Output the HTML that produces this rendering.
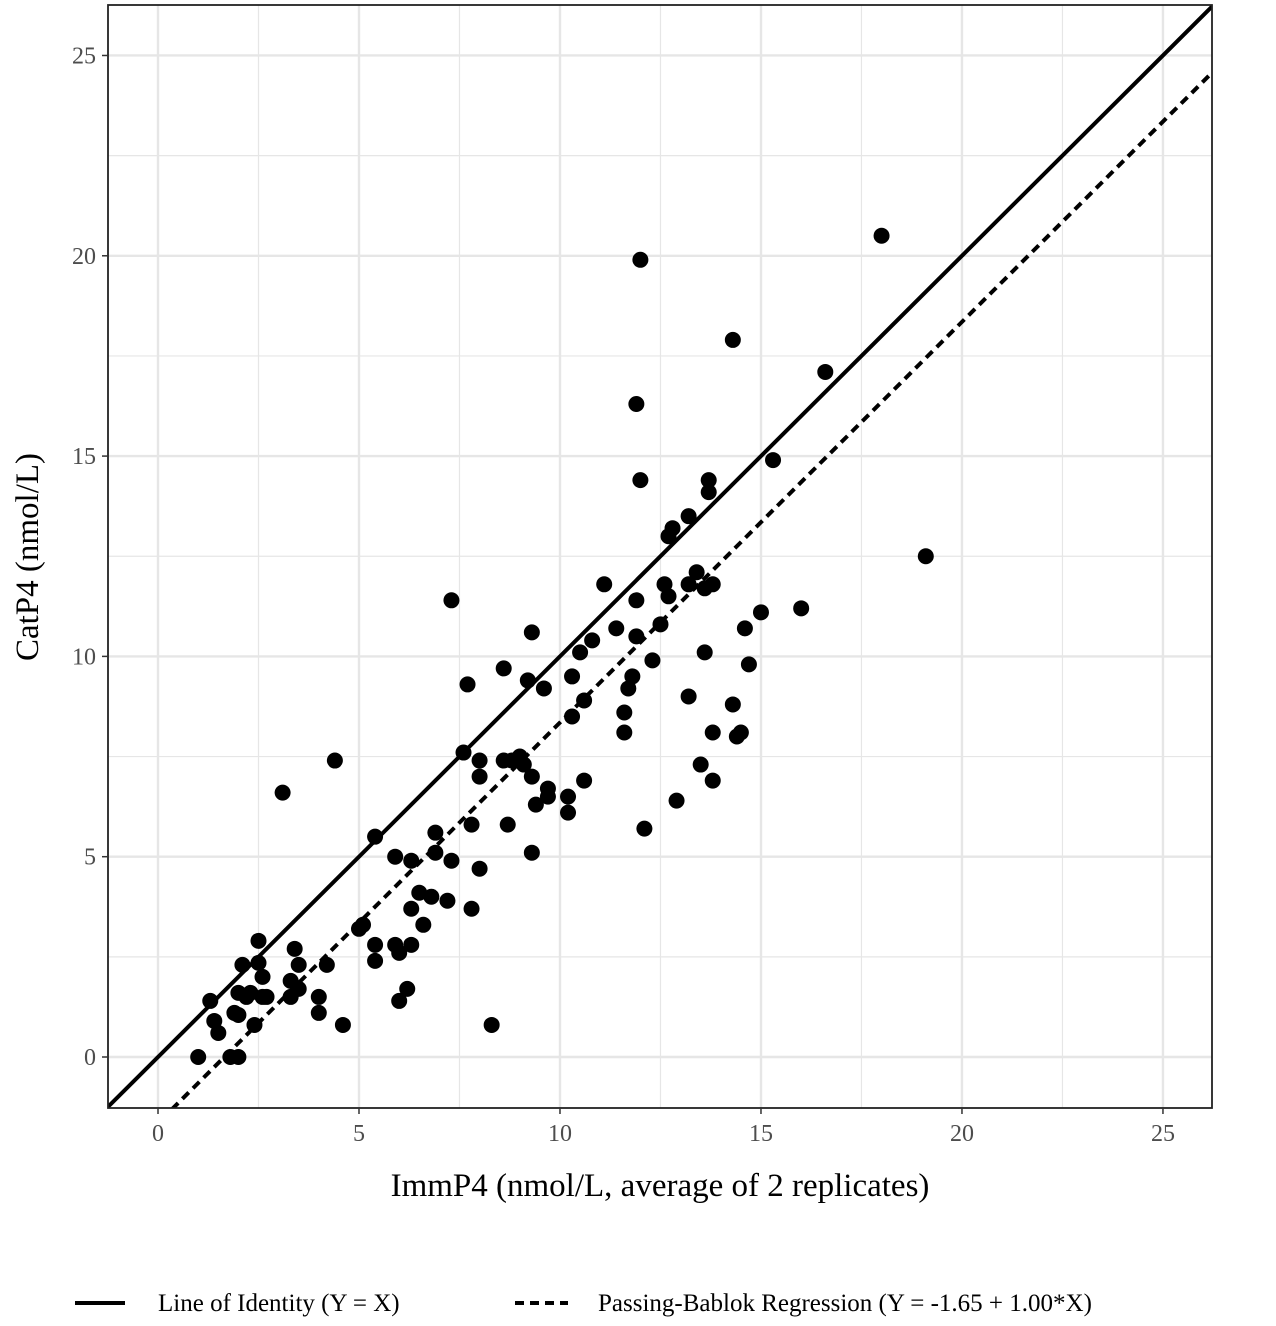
<!DOCTYPE html>
<html><head><meta charset="utf-8"><style>
html,body{margin:0;padding:0;background:#fff;}
svg{display:block;font-family:"Liberation Serif",serif;}
</style></head><body>
<svg id="chart" width="1276" height="1326" viewBox="0 0 1276 1326">
<g id="grid"></g>
<g id="lines"></g>
<g id="pts"></g>
<rect x="108" y="5" width="1104" height="1103" fill="none" stroke="#222" stroke-width="1.8"/>
<g id="ticks"></g>
<text x="660" y="1196" font-size="33" text-anchor="middle" fill="#000">ImmP4 (nmol/L, average of 2 replicates)</text>
<text transform="translate(38,557) rotate(-90)" font-size="33" text-anchor="middle" fill="#000">CatP4 (nmol/L)</text>
<g>
<line x1="75" y1="1303" x2="125" y2="1303" stroke="#000" stroke-width="4"/>
<text x="158" y="1311" font-size="25">Line of Identity (Y = X)</text>
<line x1="515" y1="1303" x2="568" y2="1303" stroke="#000" stroke-width="4" stroke-dasharray="9,6"/>
<text x="598" y="1311" font-size="25">Passing-Bablok Regression (Y = -1.65 + 1.00*X)</text>
</g>
</svg>
<script>
const xVals=[1.0,1.3,1.4,1.5,1.8,2.0,2.1,2.0,2.0,2.2,2.4,2.5,2.5,2.6,2.6,2.7,3.1,3.4,3.3,3.5,3.5,3.3,4.0,4.0,4.2,4.4,4.6,5.0,5.1,5.4,5.4,5.4,5.9,5.9,6.0,6.0,6.2,6.3,6.3,6.3,6.5,6.6,6.8,6.9,6.9,7.2,7.3,7.3,7.6,7.7,7.8,7.8,8.0,8.0,8.0,8.3,8.6,8.6,8.7,8.8,9.0,9.1,9.2,9.3,9.3,9.3,9.4,9.6,9.7,9.7,10.2,10.2,10.3,10.3,10.6,10.6,10.5,10.8,11.1,11.4,11.6,11.6,11.7,11.8,11.9,11.9,11.9,12.0,12.0,12.1,12.3,12.5,12.6,12.7,12.7,12.8,12.9,13.2,13.2,13.2,13.4,13.5,13.6,13.6,13.7,13.7,13.8,13.8,13.8,14.3,14.3,14.4,14.5,14.6,14.7,15.0,15.3,16.0,16.6,18.0,19.1,2.3,1.9];
const yVals=[0,1.4,0.9,0.6,0,0,2.3,1.6,1.05,1.5,0.8,2.9,2.35,2.0,1.5,1.5,6.6,2.7,1.9,2.3,1.7,1.5,1.5,1.1,2.3,7.4,0.8,3.2,3.3,5.5,2.8,2.4,5.0,2.8,2.6,1.4,1.7,4.9,3.7,2.8,4.1,3.3,4.0,5.6,5.1,3.9,4.9,11.4,7.6,9.3,5.8,3.7,7.4,7.0,4.7,0.8,9.7,7.4,5.8,7.4,7.5,7.3,9.4,10.6,7.0,5.1,6.3,9.2,6.7,6.5,6.5,6.1,8.5,9.5,8.9,6.9,10.1,10.4,11.8,10.7,8.6,8.1,9.2,9.5,10.5,11.4,16.3,14.4,19.9,5.7,9.9,10.8,11.8,11.5,13.0,13.2,6.4,13.5,11.8,9.0,12.1,7.3,11.7,10.1,14.4,14.1,11.8,8.1,6.9,8.8,17.9,8.0,8.1,10.7,9.8,11.1,14.9,11.2,17.1,20.5,12.5,1.6,1.1];
const xTicks=[0,5,10,15,20,25];
const yTicks=[0,5,10,15,20,25];
const regIntercept=-1.65, regSlope=1.00;
const XMIN=-1.244,XMAX=26.22,YMIN=-1.273,YMAX=26.26;
const L=108,R=1212,T=5,B=1108;
const sx=v=>L+(v-XMIN)/(XMAX-XMIN)*(R-L);
const sy=v=>B-(v-YMIN)/(YMAX-YMIN)*(B-T);
const NS="http://www.w3.org/2000/svg";
function mk(tag,attrs,parent){const e=document.createElementNS(NS,tag);for(const k in attrs)e.setAttribute(k,attrs[k]);parent.appendChild(e);return e;}
const grid=document.getElementById('grid');
mk('rect',{x:L,y:T,width:R-L,height:B-T,fill:'#fff'},grid);
for(let v=-2.5;v<=27.5;v+=2.5){
  const major=v%5===0;
  if(v>=XMIN&&v<=XMAX){const g=mk('line',{x1:sx(v),x2:sx(v),y1:T,y2:B,stroke:'#e6e6e6','stroke-width':major?2.4:1.2},grid);
  
  }
  if(v>=YMIN&&v<=YMAX){const g=mk('line',{x1:L,x2:R,y1:sy(v),y2:sy(v),stroke:'#e6e6e6','stroke-width':major?2.4:1.2},grid);
  
  }
}
const lines=document.getElementById('lines');
const clip=mk('clipPath',{id:'pc'},lines);mk('rect',{x:L,y:T,width:R-L,height:B-T},clip);
const id=mk('line',{x1:sx(XMIN),y1:sy(XMIN),x2:sx(XMAX),y2:sy(XMAX),stroke:'#000','stroke-width':4,'clip-path':'url(#pc)'},lines);


const rg=mk('line',{x1:sx(XMIN),y1:sy(regIntercept+regSlope*XMIN),x2:sx(XMAX),y2:sy(regIntercept+regSlope*XMAX),stroke:'#000','stroke-width':4,'stroke-dasharray':'9,6','clip-path':'url(#pc)'},lines);


const pts=document.getElementById('pts');
xVals.forEach((x,i)=>{const c=mk('circle',{cx:sx(x),cy:sy(yVals[i]),r:8,fill:'#000'},pts);

});
const ticks=document.getElementById('ticks');
xTicks.forEach(v=>{const t=mk('line',{x1:sx(v),x2:sx(v),y1:B,y2:B+6,stroke:'#333','stroke-width':1.5},ticks);


const l=mk('text',{x:sx(v),y:B+33,'font-size':24,'text-anchor':'middle',fill:'#4d4d4d'},ticks);l.textContent=v;

});
yTicks.forEach(v=>{const t=mk('line',{x1:L-6,x2:L,y1:sy(v),y2:sy(v),stroke:'#333','stroke-width':1.5},ticks);


const l=mk('text',{x:L-12,y:sy(v)+8,'font-size':24,'text-anchor':'end',fill:'#4d4d4d'},ticks);l.textContent=v;

});
</script>
</body></html>
